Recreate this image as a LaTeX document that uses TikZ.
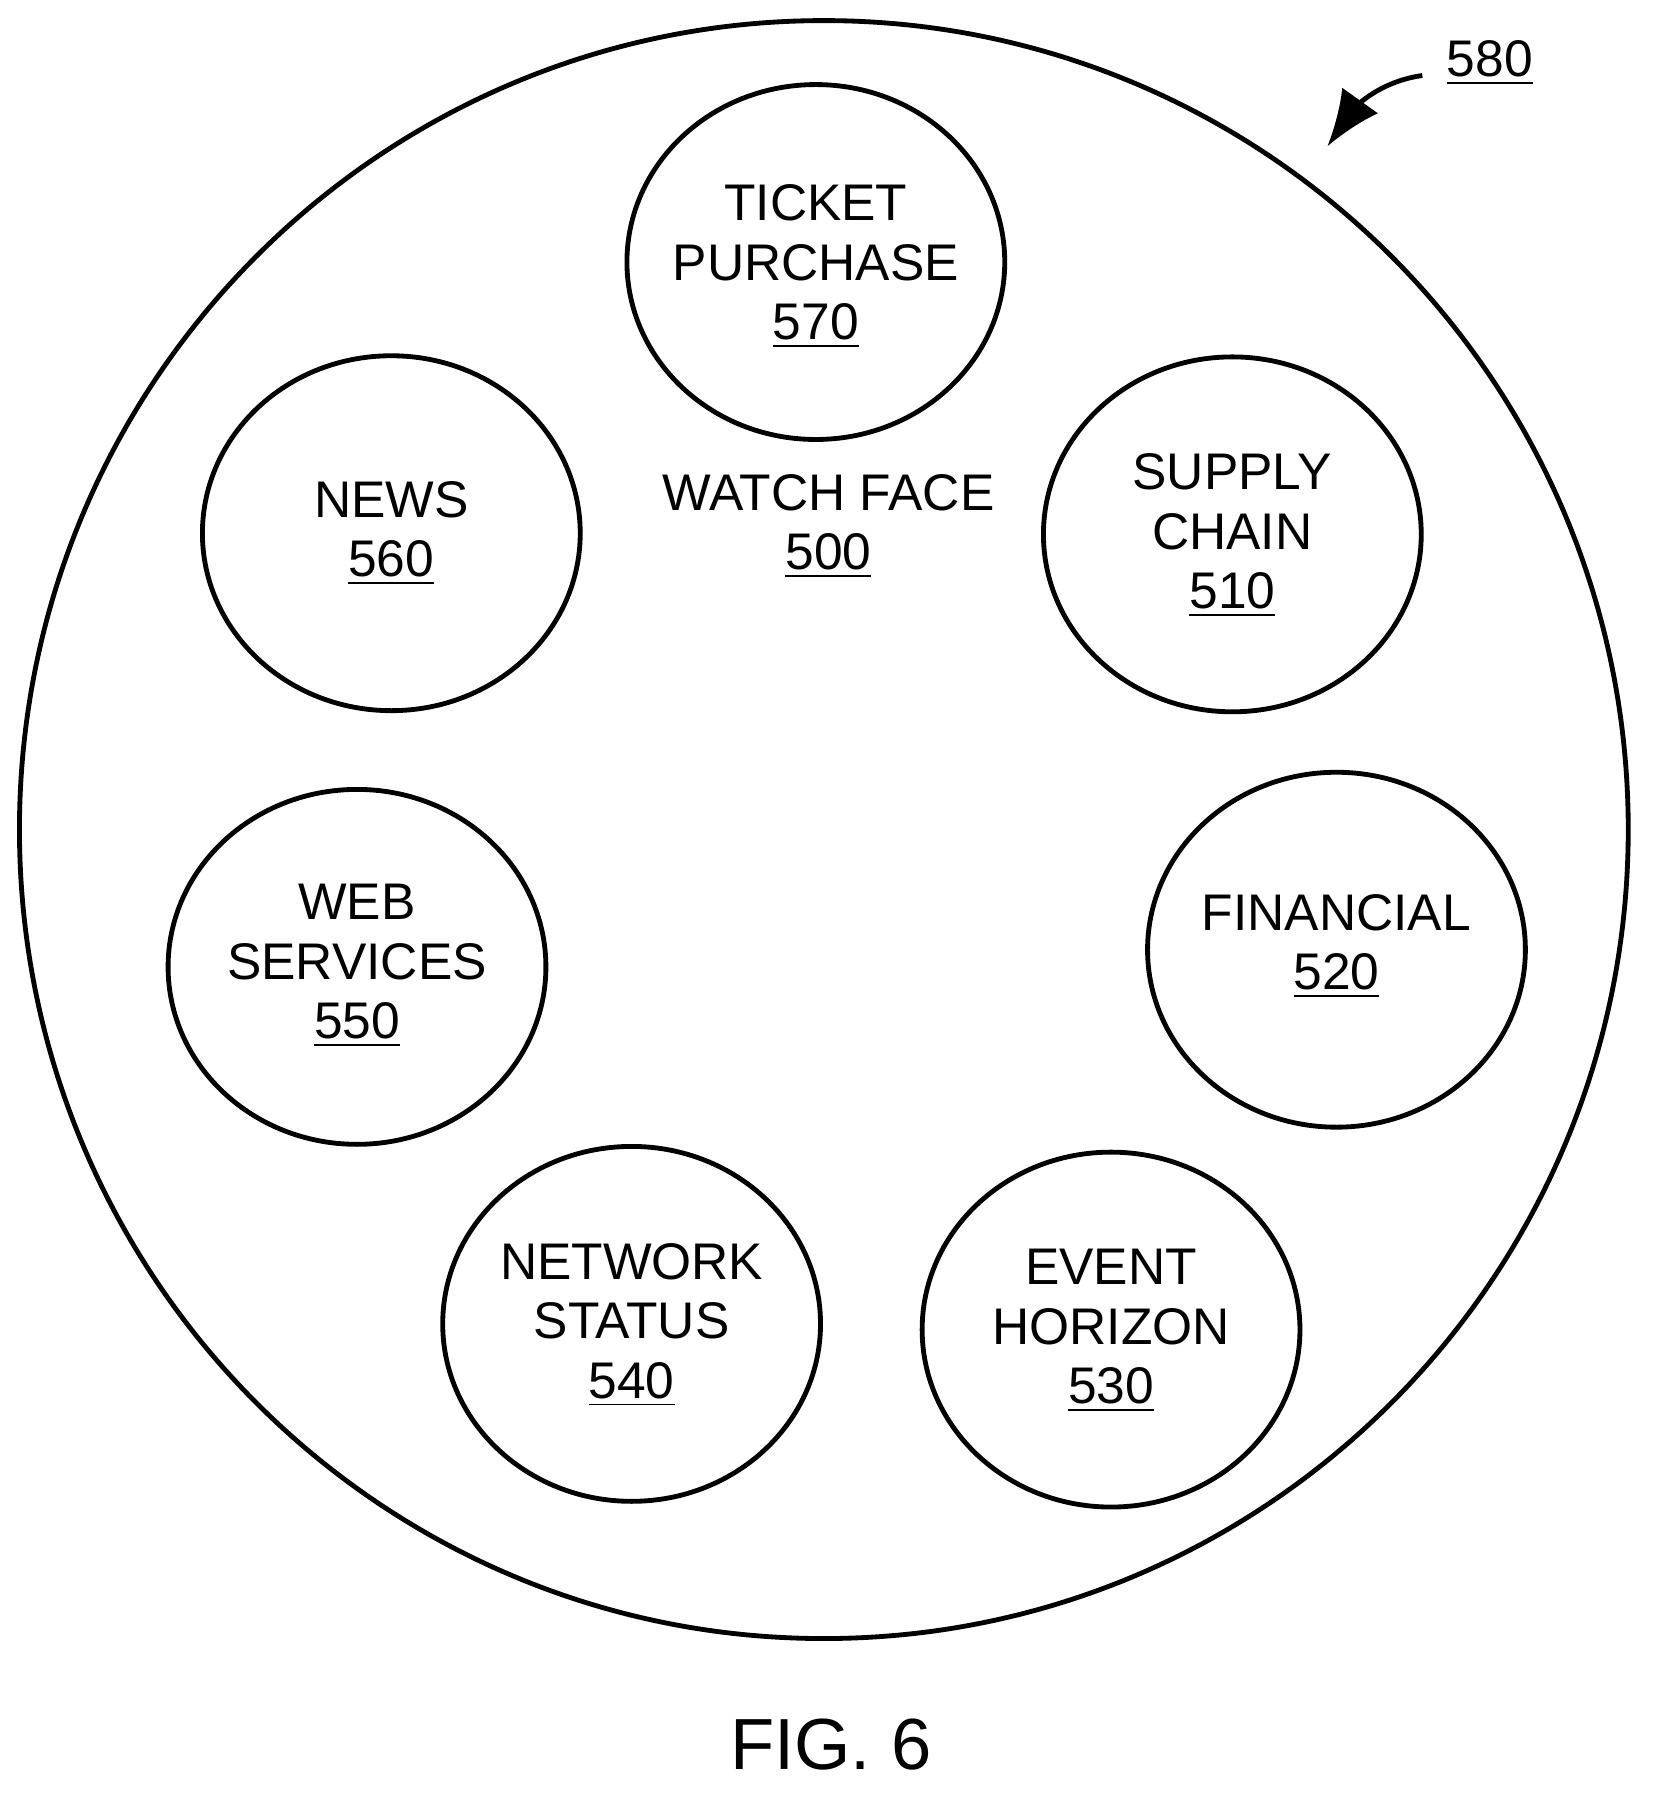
\documentclass[tikz,border=0pt]{standalone}
\usepackage{fontspec}
\setmainfont{Liberation Sans}
\usetikzlibrary{arrows.meta,shapes.geometric}
\begin{document}
\begin{tikzpicture}[x=0.01cm,y=-0.01cm,
  ring/.style={draw,line width=1.2pt,ellipse,minimum width=3.3cm,minimum height=3.1cm},
  lbl/.style={align=center,font=\fontsize{12.8}{14.8}\selectfont}]
\useasboundingbox (0,0) rectangle (1450,1567);
\draw[line width=1.2pt] (720,725) ellipse [x radius=703, y radius=707];
\node[ring] (c570) at (713,229) {};
\node[ring] (c560) at (342,466) {};
\node[ring] (c510) at (1077,467) {};
\node[ring] (c520) at (1168,830) {};
\node[ring] (c530) at (971,1162) {};
\node[ring] (c540) at (552,1157) {};
\node[ring] (c550) at (312,845) {};
\node[lbl] (t570) at (713,233) {TICKET\\PURCHASE\\\underline{570}};
\node[lbl] (t560) at (342,466) {NEWS\\\underline{560}};
\node[lbl] (t510) at (1077,468) {SUPPLY\\CHAIN\\\underline{510}};
\node[lbl] (t520) at (1168,827) {FINANCIAL\\\underline{520}};
\node[lbl] (t530) at (971,1163) {EVENT\\HORIZON\\\underline{530}};
\node[lbl] (t540) at (552,1158) {NETWORK\\STATUS\\\underline{540}};
\node[lbl] (t550) at (312,844) {WEB\\SERVICES\\\underline{550}};
\node[lbl] (t500) at (724,460) {WATCH FACE\\\underline{500}};
\node[lbl] (t580) at (1302,55) {\underline{580}};
\coordinate (a1) at (1243,66);
\coordinate (a2) at (1160,128);
\draw[line width=1.2pt,-{Latex[length=14pt,width=11pt]}] (a1) .. controls (1200,72) and (1180,100) .. (a2);
\node[font=\fontsize{18}{20}\selectfont] (fig) at (726,1525) {FIG. 6};
\end{tikzpicture}
\end{document}
